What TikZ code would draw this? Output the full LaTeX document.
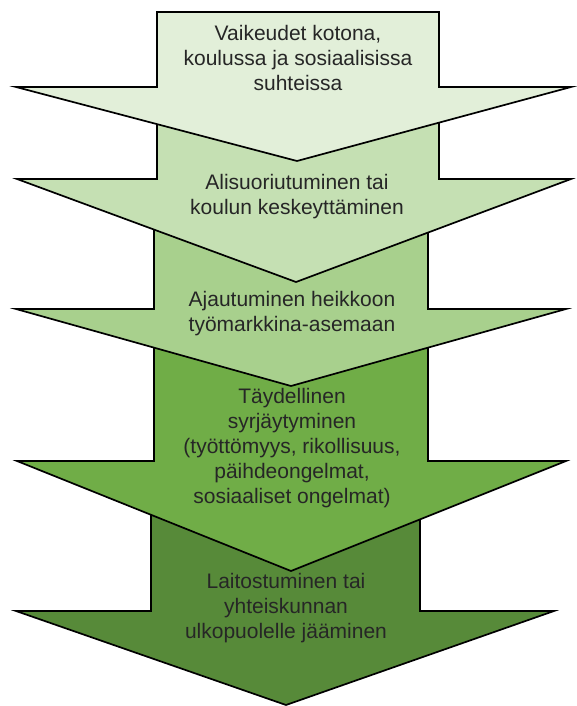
\documentclass[tikz,border=0pt]{standalone}
\usepackage{fontspec}
\setmainfont{Liberation Sans}
\usepackage{xcolor}

\definecolor{vihrea1}{HTML}{E2EFD9}
\definecolor{vihrea2}{HTML}{C5E0B3}
\definecolor{vihrea3}{HTML}{A8D08D}
\definecolor{vihrea4}{HTML}{70AD47}
\definecolor{vihrea5}{HTML}{578A39}

\begin{document}
\begin{tikzpicture}[
		x=1pt, y=-1pt,
		nuoli/.style={draw=black, line width=1.7pt, line join=miter},
		teksti/.style={align=center, text=black!85, font=\fontsize{21}{25}\selectfont}
	]
	\useasboundingbox (0,0) rectangle (576,706);

	% alimmat nuolet ensin, ylempi peittaa alemman varren
	\filldraw[nuoli, fill=vihrea5] (151,480) -- (420,480) -- (420,611) -- (554,611) -- (286,705) -- (16,611) -- (151,611) -- cycle;
	\filldraw[nuoli, fill=vihrea4] (154,320) -- (428,320) -- (428,461) -- (566,461) -- (291,571) -- (17,461) -- (154,461) -- cycle;
	\filldraw[nuoli, fill=vihrea3] (154,200) -- (428,200) -- (428,309) -- (566,309) -- (291,386) -- (16,309) -- (154,309) -- cycle;
	\filldraw[nuoli, fill=vihrea2] (157,100) -- (439,100) -- (439,179) -- (571,179) -- (296,282) -- (17,179) -- (157,179) -- cycle;
	\filldraw[nuoli, fill=vihrea1] (157,12) -- (439,12) -- (439,87) -- (571,87) -- (297,161) -- (16,87) -- (157,87) -- cycle;

	\node[teksti] (vaikeudet) at (298,58) {Vaikeudet kotona,\\koulussa ja sosiaalisissa\\suhteissa};
	\node[teksti] (alisuoriutuminen) at (297,197) {Alisuoriutuminen tai\\koulun keskeyttäminen};
	\node[teksti] (ajautuminen) at (292,314) {Ajautuminen heikkoon\\työmarkkina-asemaan};
	\node[teksti] (syrjaytyminen) at (292,448) {Täydellinen\\syrjäytyminen\\(työttömyys, rikollisuus,\\päihdeongelmat,\\sosiaaliset ongelmat)};
	\node[teksti] (laitostuminen) at (286,608) {Laitostuminen tai\\yhteiskunnan\\ulkopuolelle jääminen};

\end{tikzpicture}
\end{document}
